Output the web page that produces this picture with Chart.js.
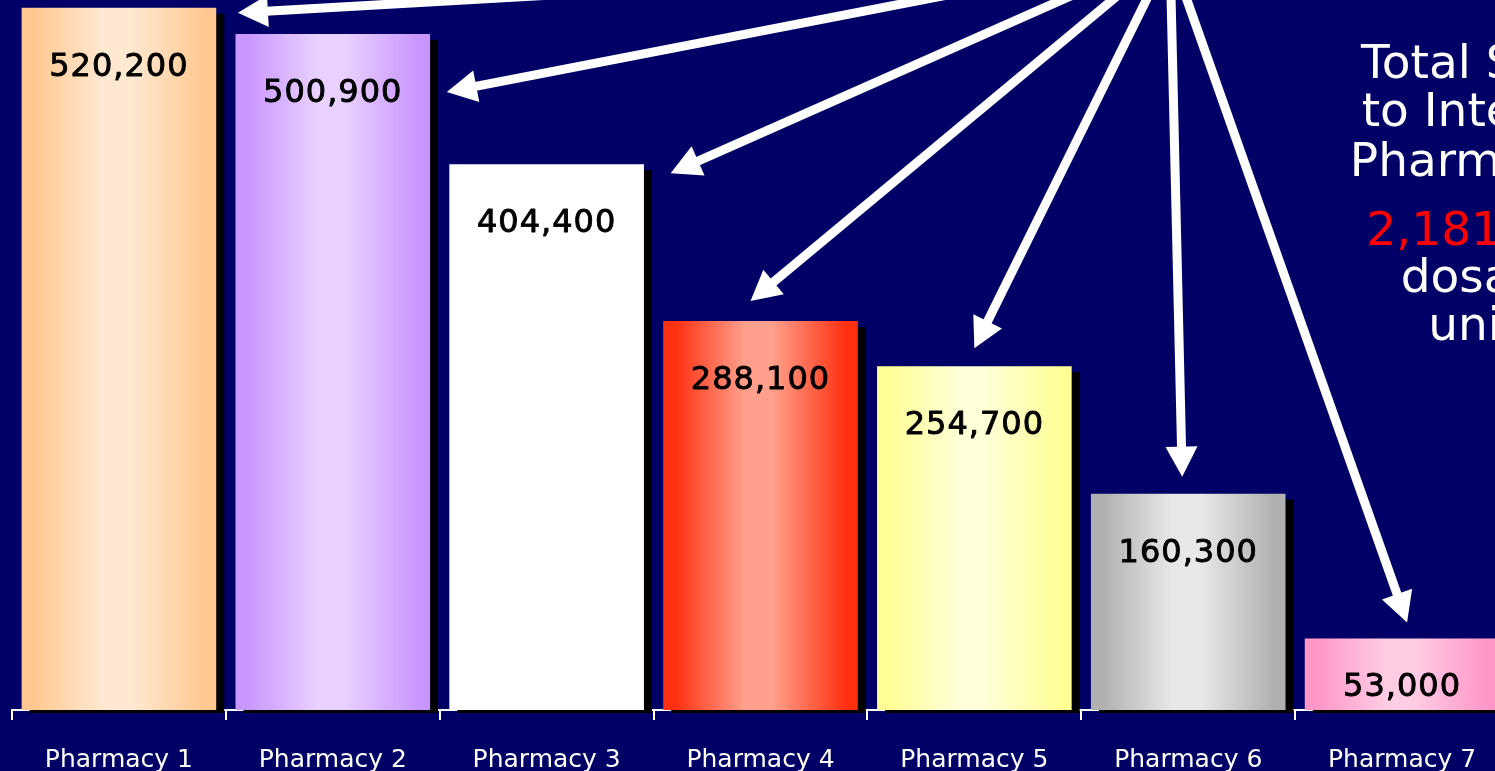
<!DOCTYPE html>
<html><head><meta charset="utf-8">
<script src="https://cdn.jsdelivr.net/npm/chart.js@4.4.1/dist/chart.umd.min.js"></script>
<style>
html,body{margin:0;padding:0;background:#000066;overflow:hidden;width:1495px;height:771px;}
#wrap{position:absolute;left:0;top:0;width:1521px;height:771px;}
canvas{display:block;}
</style></head><body>
<div id="wrap"><canvas id="c" width="1521" height="771"></canvas></div>
<script>
// ---- data ----
const categories = ['Pharmacy 1','Pharmacy 2','Pharmacy 3','Pharmacy 4','Pharmacy 5','Pharmacy 6','Pharmacy 7'];
const values = [520200, 500900, 404400, 288100, 254700, 160300, 53000];
const edgeColors = ['#FFC890','#C896FF','#FFFFFF','#FF3010','#FFFF96','#B0B0B0','#FF96C8'];
const centerColors = ['#FFE8D2','#E8D0FF','#FFFFFF','#FFA08C','#FFFFD8','#E8E8E8','#FFCCE4'];
const yMax = 526000;
const titleLines = ['Total Sales','to Internet','Pharmacies'];
const unitLines = ['dosage','units'];
const totalText = values.reduce((a,b)=>a+b,0).toLocaleString('en-US');
// arrow tips relative to each bar's top-centre
const arrowTipOffsets = [[119,5],[114,58],[124,9],[-10,-20],[0,-18],[-6,-17],[5,-16]];
const arrowOrigins = [[1170,-40],[1170,-48],[1170,-48],[1170,-48],[1170,-48],[1170,-48],[1170,-48]];

const BG = '#000066';

function barGradient(context){
  const chart = context.chart;
  const i = context.dataIndex;
  if (!chart.chartArea || !chart.scales.x || i === undefined) return edgeColors[i||0];
  const xs = chart.scales.x;
  const cw = xs.width / categories.length;
  const half = cw * 0.91 / 2;
  const cx = xs.getPixelForValue(i);
  const g = chart.ctx.createLinearGradient(cx - half, 0, cx + half, 0);
  g.addColorStop(0, edgeColors[i]);
  g.addColorStop(0.06, edgeColors[i]);
  g.addColorStop(0.42, centerColors[i]);
  g.addColorStop(0.56, centerColors[i]);
  g.addColorStop(0.94, edgeColors[i]);
  g.addColorStop(1, edgeColors[i]);
  return g;
}

const bgPlugin = {
  id: 'bg',
  beforeDraw(chart){
    const c = chart.ctx;
    c.save(); c.fillStyle = BG; c.fillRect(0,0,chart.width,chart.height); c.restore();
  }
};

const shadowPlugin = {
  id: 'shadow',
  beforeDatasetsDraw(chart){
    const c = chart.ctx;
    const meta = chart.getDatasetMeta(0);
    c.save();
    c.fillStyle = '#000000';
    meta.data.forEach(el => {
      const p = el.getProps(['x','y','base','width'], true);
      c.fillRect(p.x - p.width/2 + 8, p.y + 6, p.width, p.base - p.y - 6 + 3);
    });
    c.restore();
  }
};

function drawArrow(c, x0, y0, x1, y1){
  const ang = Math.atan2(y1 - y0, x1 - x0);
  const headLen = 30, headHalf = 16;
  const bx = x1 - headLen * Math.cos(ang), by = y1 - headLen * Math.sin(ang);
  c.beginPath();
  c.moveTo(x0, y0); c.lineTo(bx + Math.cos(ang)*2, by + Math.sin(ang)*2);
  c.lineWidth = 9; c.strokeStyle = '#FFFFFF'; c.lineCap = 'butt';
  c.stroke();
  c.beginPath();
  c.moveTo(x1, y1);
  c.lineTo(bx + headHalf*Math.sin(ang), by - headHalf*Math.cos(ang));
  c.lineTo(bx - headHalf*Math.sin(ang), by + headHalf*Math.cos(ang));
  c.closePath();
  c.fillStyle = '#FFFFFF';
  c.fill();
}

const labelPlugin = {
  id: 'labels',
  afterDatasetsDraw(chart){
    const c = chart.ctx;
    const meta = chart.getDatasetMeta(0);
    c.save();
    // value labels
    c.font = '32px "DejaVu Sans"';
    c.fillStyle = '#000000';
    c.strokeStyle = '#000000';
    c.lineWidth = 0.9;
    c.lineJoin = 'round';
    c.textAlign = 'center';
    c.textBaseline = 'alphabetic';
    try { c.letterSpacing = '1px'; } catch(e) {}
    meta.data.forEach((el, i) => {
      const p = el.getProps(['x','y','base'], true);
      const yb = Math.min(p.y + 68, p.base - 14);
      const t = values[i].toLocaleString('en-US');
      c.fillText(t, p.x, yb);
      c.strokeText(t, p.x, yb);
    });
    try { c.letterSpacing = '0px'; } catch(e) {}
    // arrows
    meta.data.forEach((el, i) => {
      const p = el.getProps(['x','y'], true);
      const tip = arrowTipOffsets[i], o = arrowOrigins[i];
      drawArrow(c, o[0], o[1], p.x + tip[0], p.y + tip[1]);
    });
    // side text
    const cx = 1486;
    c.font = '47px "DejaVu Sans"';
    c.textAlign = 'center';
    c.fillStyle = '#FFFFFF';
    const titleBase = [78, 126, 176];
    titleLines.forEach((t, k) => c.fillText(t, cx, titleBase[k]));
    c.fillStyle = '#FF0000';
    c.fillText(totalText, cx, 245);
    c.fillStyle = '#FFFFFF';
    const unitBase = [292, 340];
    unitLines.forEach((t, k) => c.fillText(t, cx, unitBase[k]));
    c.restore();
  }
};

new Chart(document.getElementById('c'), {
  type: 'bar',
  data: {
    labels: categories,
    datasets: [{
      data: values,
      backgroundColor: barGradient,
      borderWidth: 0,
      categoryPercentage: 1.0,
      barPercentage: 0.91
    }]
  },
  options: {
    responsive: false,
    animation: false,
    devicePixelRatio: 1,
    layout: { padding: { left: 12, right: 12, top: 0, bottom: 0 } },
    plugins: { legend: { display: false }, tooltip: { enabled: false } },
    scales: {
      x: {
        z: 1,
        grid: { offset: true, drawOnChartArea: false, drawTicks: true, tickLength: 10, color: '#FFFFFF', lineWidth: 2 },
        border: { color: '#FFFFFF', width: 2 },
        ticks: { color: '#FFFFFF', font: { family: 'DejaVu Sans', size: 25 }, padding: 25, maxRotation: 0, autoSkip: false },
        afterFit(s){ s.height = 61; }
      },
      y: { display: false, min: 0, max: yMax }
    }
  },
  plugins: [bgPlugin, shadowPlugin, labelPlugin]
});
</script>
</body></html>
